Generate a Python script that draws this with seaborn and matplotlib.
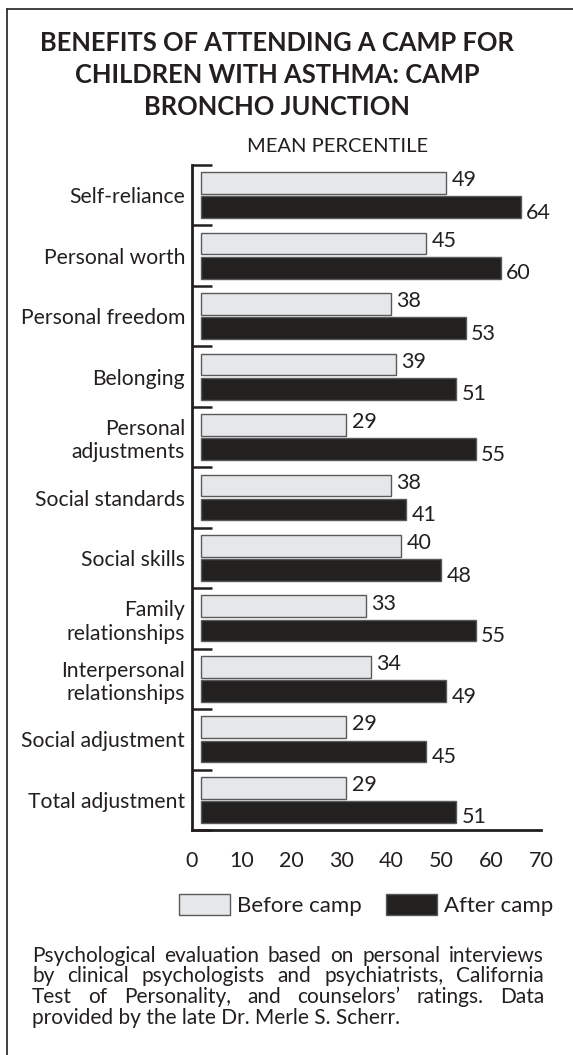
import numpy as np
import pandas as pd
import matplotlib
matplotlib.use("Agg")
import matplotlib.pyplot as plt
import seaborn as sns
from matplotlib.lines import Line2D

# ---------------- data ----------------
categories = [
    "Self-reliance", "Personal worth", "Personal freedom", "Belonging",
    "Personal\nadjustments", "Social standards", "Social skills",
    "Family\nrelationships", "Interpersonal\nrelationships",
    "Social adjustment", "Total adjustment",
]
before_camp = [49, 45, 38, 39, 29, 38, 40, 33, 34, 29, 29]
after_camp = [64, 60, 53, 51, 55, 41, 48, 55, 49, 45, 51]
series = ["Before camp", "After camp"]
x_ticks = [0, 10, 20, 30, 40, 50, 60, 70]

title_lines = [
    "BENEFITS OF ATTENDING A CAMP FOR",
    "CHILDREN WITH ASTHMA: CAMP",
    "BRONCHO JUNCTION",
]
axis_title = "MEAN PERCENTILE"
footnote_lines = [
    "Psychological evaluation based on personal interviews",
    "by clinical psychologists and psychiatrists, California",
    "Test of Personality, and counselors\u2019 ratings. Data",
    "provided by the late Dr. Merle S. Scherr.",
]

df = pd.DataFrame({
    "category": categories * 2,
    "period": [series[0]] * len(categories) + [series[1]] * len(categories),
    "value": before_camp + after_camp,
})

# ---------------- style ----------------
INK = "#231f20"
LIGHT = "#e6e7e8"
EDGE = "#58595b"

sns.set_theme(style="white")
plt.rcParams["font.family"] = ["Lato", "DejaVu Sans"]
plt.rcParams["text.color"] = INK

W, H = 573, 1055
fig = plt.figure(figsize=(W / 100, H / 100), dpi=100)
fig.patch.set_facecolor("white")

ax = fig.add_axes([192 / W, 1 - 830 / H, (541 - 192) / W, (830 - 165) / H])

sns.barplot(
    data=df, y="category", x="value", hue="period",
    order=categories, hue_order=series,
    palette={series[0]: LIGHT, series[1]: INK},
    orient="h", width=0.8, gap=0.1, errorbar=None, legend=False,
    edgecolor=EDGE, linewidth=1.0, left=1.9, ax=ax,
)

ax.set_xlim(0, 70)
ax.set_ylim(len(categories) - 0.5, -0.5)
ax.set_xticks(x_ticks)
ax.set_xlabel("")
ax.set_ylabel("")
for s in ["top", "right"]:
    ax.spines[s].set_visible(False)
for s in ["left", "bottom"]:
    ax.spines[s].set_linewidth(2.0)
    ax.spines[s].set_color(INK)
    ax.spines[s].set_capstyle("projecting")

ax.tick_params(axis="x", direction="out", length=11, width=1.8, color=INK,
               labelsize=15.5, labelcolor=INK, pad=4)
ax.tick_params(axis="y", which="major", length=0, labelsize=15.2, labelcolor=INK, pad=5)
ax.set_yticks(np.arange(-0.5, len(categories), 1.0), minor=True)
ax.tick_params(axis="y", which="minor", direction="in", length=14.5, width=1.8,
               color=INK, left=True)

# value labels
for cont, vals, dy in zip(ax.containers, [before_camp, after_camp], [2, -4]):
    anns = ax.bar_label(cont, labels=[str(v) for v in vals], padding=5,
                        fontsize=15.5, color=INK)
    for a in anns:
        a.xyann = (4, dy)

# legend
ax.legend(handles=list(ax.containers[:2]), labels=series,
          loc="center", bbox_to_anchor=(366 / W, 1 - 905 / H),
          bbox_transform=fig.transFigure, ncol=2, frameon=False,
          fontsize=16, handlelength=2.3, handleheight=1.1,
          handletextpad=0.3, columnspacing=1.1, borderpad=0)

# titles
for i, line in enumerate(title_lines):
    fig.text(277 / W, 1 - (43 + 32 * i) / H, line, ha="center", va="center",
             fontsize=18.4, fontweight="bold", color=INK)
fig.text(338 / W, 1 - 146 / H, axis_title, ha="center", va="center",
         fontsize=14.5, color=INK)

# footnote (justified)
renderer = fig.canvas.get_renderer()
x_left, x_right = 32, 544
fn_size = 15
for i, line in enumerate(footnote_lines):
    y = 1 - (956 + 20.5 * i) / H
    words = line.split(" ")
    if i < len(footnote_lines) - 1:
        arts = [fig.text(0, y, w, ha="left", va="center", fontsize=fn_size, color=INK)
                for w in words]
        widths = [a.get_window_extent(renderer).width for a in arts]
        gap = (x_right - x_left - sum(widths)) / (len(words) - 1)
        x = x_left
        for a, wd in zip(arts, widths):
            a.set_x(x / W)
            x += wd + gap
    else:
        fig.text(x_left / W, y, line, ha="left", va="center", fontsize=fn_size, color=INK)

# frame
fig.add_artist(Line2D([7 / W, 7 / W], [0, 1 - 9 / H], transform=fig.transFigure,
                      color=INK, linewidth=1.2))
fig.add_artist(Line2D([7 / W, 1], [1 - 9 / H, 1 - 9 / H], transform=fig.transFigure,
                      color=INK, linewidth=1.2))

fig.savefig("out.png", dpi=100, facecolor="white")
